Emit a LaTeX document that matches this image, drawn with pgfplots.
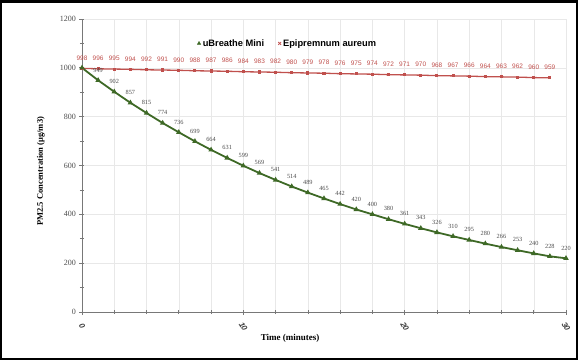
\documentclass[border=0pt]{standalone}
\usepackage{pgfplots}
\pgfplotsset{compat=1.18}
\usepackage{fontspec}
\setmainfont{Liberation Serif}
\setsansfont{Liberation Sans}
\definecolor{grn}{RGB}{62,105,38}
\definecolor{rd}{RGB}{192,80,77}
\definecolor{axgray}{RGB}{120,120,120}
\begin{document}
\begin{tikzpicture}
\begin{axis}[name=ax, at={(0,0)}, anchor=south west, scale only axis,
  width=484pt, height=293pt,
  xmin=0, xmax=30, ymin=0, ymax=1200,
  xtick={0,10,20,30}, minor x tick num=4,
  ytick={0,200,...,1200}, minor y tick num=1,
  xmajorgrids, xminorgrids, ymajorgrids,
  grid style={gray!18}, minor grid style={gray!18},
  axis lines*=left,
  axis line style={axgray, line width=0.9pt},
  tick align=center, major tick length=5pt, minor tick length=4pt,
  tick style={axgray, line width=0.7pt},
  /pgf/number format/assume math mode=true,
  /pgf/number format/1000 sep={},
  yticklabel style={font=\fontsize{8}{9}\selectfont, text=black!70},
  xticklabel shift=12pt,
  xticklabel style={font=\fontsize{8}{9}\selectfont\sffamily\bfseries\itshape, text=black!75, rotate=-60, anchor=center},
  xlabel={Time (minutes)},
  xlabel style={at={(rel axis cs:0.43,0)}, anchor=center, yshift=-26pt, font=\fontsize{9}{10}\selectfont\bfseries},
  ylabel={PM2.5 Concentration (μg/m3)},
  ylabel style={at={(rel axis cs:-0.085,0.48)}, anchor=center, font=\fontsize{8.5}{10}\selectfont\bfseries},
  legend style={draw=none, fill=none, legend columns=2, at={(0.425,0.945)}, anchor=north,
    font=\sffamily\bfseries\fontsize{9.3}{11}\selectfont,
    /tikz/every even column/.append style={column sep=12pt}},
  clip=false,
]
\addlegendimage{only marks, mark=triangle*, grn, mark size=2pt}
\addlegendentry{uBreathe Mini}
\addlegendimage{only marks, mark=x, rd, mark size=2pt, thick}
\addlegendentry{Epipremnum aureum}

\addplot[rd, line width=1.3pt, mark=square*, mark size=0.9pt, forget plot] coordinates {
(0,998)(1,996)(2,995)(3,994)(4,992)(5,991)(6,990)(7,988)(8,987)(9,986)
(10,984)(11,983)(12,982)(13,980)(14,979)(15,978)(16,976)(17,975)(18,974)(19,972)
(20,971)(21,970)(22,968)(23,967)(24,966)(25,964)(26,963)(27,962)(28,960)(29,959)};

\addplot[grn, line width=1.8pt, mark=triangle*, mark size=1.4pt, forget plot] coordinates {
(0,1000)(1,949)(2,902)(3,857)(4,815)(5,774)(6,736)(7,699)(8,664)(9,631)(10,599)
(11,569)(12,541)(13,514)(14,489)(15,465)(16,442)(17,420)(18,400)(19,380)(20,361)
(21,343)(22,326)(23,310)(24,295)(25,280)(26,266)(27,253)(28,240)(29,228)(30,220)};

\addplot[draw=none, forget plot, nodes near coords, point meta=y,
  nodes near coords style={font=\fontsize{6.3}{7}\selectfont, text=black!70, anchor=south, inner sep=1pt, yshift=7pt}]
 coordinates {
(1,949)(2,902)(3,857)(4,815)(5,774)(6,736)(7,699)(8,664)(9,631)(10,599)
(11,569)(12,541)(13,514)(14,489)(15,465)(16,442)(17,420)(18,400)(19,380)(20,361)
(21,343)(22,326)(23,310)(24,295)(25,280)(26,266)(27,253)(28,240)(29,228)(30,220)};

\addplot[draw=none, forget plot, nodes near coords, point meta=y,
  nodes near coords style={font=\sffamily\fontsize{6.5}{7}\selectfont, text=rd, anchor=south, inner sep=1pt, yshift=7pt}]
 coordinates {
(0,998)(1,996)(2,995)(3,994)(4,992)(5,991)(6,990)(7,988)(8,987)(9,986)
(10,984)(11,983)(12,982)(13,980)(14,979)(15,978)(16,976)(17,975)(18,974)(19,972)
(20,971)(21,970)(22,968)(23,967)(24,966)(25,964)(26,963)(27,962)(28,960)(29,959)};
\end{axis}
\draw[line width=2.5pt] (-80.75pt,-46.75pt) rectangle (494.75pt,310.75pt);
\end{tikzpicture}
\end{document}
